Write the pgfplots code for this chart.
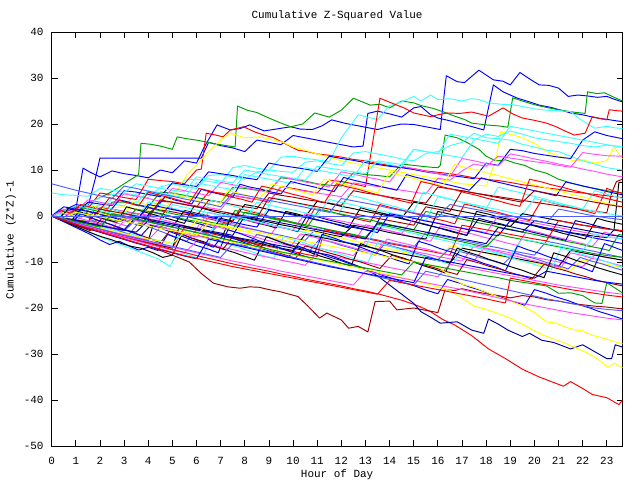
\documentclass[border=0pt]{standalone}
\usepackage{pgfplots}
\pgfplotsset{compat=1.18}
\usepackage{fontspec}
\setmainfont{Liberation Mono}
\definecolor{cR}{HTML}{FF0000}
\definecolor{cG}{HTML}{00A000}
\definecolor{cB}{HTML}{0000FF}
\definecolor{cM}{HTML}{FF50FF}
\definecolor{cC}{HTML}{40FFFF}
\definecolor{cD}{HTML}{A00000}
\definecolor{cY}{HTML}{FFFF00}
\definecolor{cK}{HTML}{000000}
\definecolor{cS}{HTML}{5060FF}
\definecolor{cN}{HTML}{0000A0}
\begin{document}
\begin{tikzpicture}[font=\fontsize{11}{13}\selectfont]
\path[use as bounding box] (-51.7bp,-34bp) rectangle (588.3bp,446bp);
\begin{axis}[at={(0,0)},anchor=south west,scale only axis,
 width=570.8bp,height=414bp,
 xmin=0,xmax=23.65,ymin=-50,ymax=40,
 xtick={0,...,23},ytick={-50,-40,...,40},
 major tick length=6bp,
 tick style={black,line width=0.8bp},
 axis line style={black,line width=1bp},
 /pgf/number format/assume math mode=true,
 xticklabel style={anchor=base,yshift=-18bp,inner sep=0pt},
 yticklabel style={anchor=east,xshift=-8bp,inner sep=0pt},
 every axis plot/.append style={line width=0.95bp,line join=round},
 no markers]
% upper group
\addplot[cB] coordinates {(0,0)(0.5,1)(1,1.5)(1.3,10.4)(1.6,9.5)(2,8.5)(2.5,9.8)(3,9.2)(3.5,8.8)(4,8.3)(4.5,10)(5,9.4)(5.5,12)(6,11.5)(6.3,14.8)(6.85,19.8)(7.4,18.7)(7.8,19)(8.2,19.8)(8.8,18.5)(9.3,18.9)(9.9,19.4)(10.3,18.9)(10.8,18.8)(11.2,19.6)(11.6,20.9)(12.2,20.1)(12.9,19.4)(13.5,18.8)(14,19.5)(14.5,20)(15,19.9)(15.3,19.6)(15.7,19.2)(16.1,18.8)(16.35,30.5)(16.8,29.2)(17.1,29)(17.7,31.7)(18.3,29.6)(18.7,29.3)(19,28.5)(19.4,31.2)(19.8,29.8)(20.2,28.5)(20.6,28.4)(21,27.8)(21.4,26)(21.8,26.3)(22.2,26.1)(22.6,25.8)(23,26)(23.3,25.4)(23.65,24.8)};
\addplot[cB] coordinates {(0,0)(0.5,1.2)(1,2.5)(1.5,2)(1.8,8)(2,12.6)(6.2,12.6)(6.5,16)(7,15.3)(7.5,14.8)(8,14)(8.5,16.5)(9,16)(9.5,15.5)(10,17.5)(10.5,17)(11,16.5)(11.5,16)(12,15.5)(12.5,15)(12.9,15.2)(13.1,22.3)(13.5,22.8)(14,22.2)(14.5,21.5)(15,23.5)(15.3,23.8)(15.7,22)(16,21.3)(16.5,20.7)(17,20)(17.5,19.3)(17.9,18.7)(18.3,28.5)(18.7,27)(19.3,25.6)(19.8,24.8)(20.2,24.1)(20.7,23.6)(21.1,23)(21.5,22.4)(22,22)(22.5,21.4)(23,21)(23.65,20.5)};
\addplot[cG] coordinates {(0,0)(0.5,0.7)(1,1.5)(1.5,2.8)(2,4)(2.5,5.3)(3,7)(3.6,9)(3.7,15.8)(4.1,15.6)(4.5,15.2)(5,14.5)(5.2,17.2)(5.6,16.8)(6,16.5)(6.5,16)(7,15.5)(7.6,15)(7.7,23.9)(8.1,23)(8.5,22.5)(9,21.3)(9.5,20.2)(9.9,19.4)(10.4,20)(10.9,22.4)(11.5,21.5)(12,23)(12.5,25.6)(13.2,24.1)(13.6,24.3)(14,23.5)(14.5,25)(15,24.6)(15.3,24)(15.8,23.4)(16.2,22.7)(16.7,21.7)(17.1,21)(17.4,20.2)(18,19.8)(18.5,19.6)(18.9,19.3)(19.1,25.7)(19.5,25)(20,24.2)(20.5,23.6)(21.1,23)(21.6,22.6)(22.1,22.3)(22.2,27)(22.6,26.6)(22.9,26.8)(23.3,25.8)(23.65,25)};
\addplot[cC] coordinates {(0,0)(0.5,0.5)(1,1)(1.5,2.2)(2,3)(2.5,2.6)(3,2.2)(3.5,4.8)(4,5)(4.5,4.5)(5,4.2)(5.5,7.8)(6,8)(6.5,7.5)(7,7.1)(7.5,10.5)(8,11)(8.5,10.4)(9,10)(9.5,12.8)(10,13)(10.5,12.5)(11,12.2)(11.5,11.8)(12,17)(12.7,22)(13,21.6)(13.5,21)(14,24)(14.5,24.8)(15,26)(15.3,25)(15.7,26.3)(16,25.3)(16.5,25.5)(17,25)(17.4,25.5)(17.7,25.3)(18.1,24.6)(18.6,24.3)(19.1,24.2)(19.5,23.8)(20,23.3)(20.5,23)(21,22.9)(21.5,22.7)(21.8,21.4)(22.2,20)(22.5,19.1)(23,19.5)(23.3,19.2)(23.65,19)};
\addplot[cR] coordinates {(0,0)(0.5,-0.6)(1,-1)(1.5,-1.5)(1.8,2)(2.5,1.5)(3,1)(3.5,0.5)(4,0)(4.5,3.2)(5,3)(5.5,2.5)(6,2)(6.5,5.2)(7,5)(7.5,4.5)(8,4)(8.5,3.6)(9,3)(9.5,6.4)(10,6)(10.5,5.5)(11,5)(11.5,7.8)(12,7.5)(12.5,7)(13,6.4)(13.6,25.6)(14.3,24.1)(14.6,23.5)(15,22.4)(15.7,21.6)(16,22)(16.4,22.4)(16.9,22.3)(17.4,22.6)(18.1,21.7)(18.7,23.5)(19.1,22.2)(19.5,21.3)(20,20.8)(20.5,20.2)(20.9,19.4)(21.3,18.4)(21.65,17.6)(22.1,18)(22.4,21.6)(22.7,21.2)(23,20.9)(23.1,23.1)(23.4,22.9)(23.65,22.8)};
\addplot[cR] coordinates {(0,0)(0.5,0.8)(1,2)(1.5,1.6)(2,5)(2.5,4.6)(3,4)(3.5,3.6)(4,8)(4.5,7.7)(5,7.5)(5.5,7)(6,10)(6.2,10.2)(6.4,18)(6.8,17.6)(7.1,17.2)(7.4,18.7)(7.95,19.4)(8.4,18.3)(8.8,17.6)(9.2,17)(9.5,16.2)(9.9,15.1)(10.2,14.3)(10.6,14)(11,13.5)(11.5,13.2)(12,12.8)(12.5,12.3)(13,12)(13.5,11.4)(14,11)(14.5,10.6)(15,10.3)(15.5,9.8)(16,9.5)(16.5,9.2)(17,8.8)(17.5,8.3)(18,8)(18.5,7.7)(19,7.3)(19.5,6.8)(20,6.5)(20.5,6.1)(21,5.8)(21.5,5.3)(22,5)(22.5,4.7)(23,4.4)(23.65,4)};
\addplot[cG] coordinates {(0,0)(0.5,-0.5)(1,-0.8)(1.5,-1.2)(2,-1)(2.5,3)(3,3)(3.5,2.5)(4,2)(4.5,5.2)(5,5)(5.5,4.5)(6,4)(6.5,3.5)(7,3)(7.5,6.2)(8,6)(8.5,5.6)(9,5.5)(9.5,8.3)(10,8)(10.5,7.6)(11,7)(11.5,6.7)(12,6.5)(12.5,9.4)(13,9)(13.5,8.8)(14,8.5)(14.5,11.3)(15,11)(15.5,10.7)(16,10.5)(16.1,11)(16.3,17.6)(16.8,17)(17.2,16)(17.7,14.5)(18,13)(18.4,12)(18.8,12.2)(19.2,11.5)(19.6,11)(20,10)(20.5,9.3)(21,8)(21.5,7.2)(22,6.5)(22.5,6)(23,5.5)(23.65,5)};
\addplot[cY] coordinates {(0,0)(0.5,0.6)(1,1)(1.5,0.5)(2,0)(2.5,1.8)(3,2)(3.5,1.5)(4,1)(4.5,3.8)(5,4)(5.6,8.9)(6,11)(6.5,14)(7,16.5)(7.4,18)(8,17)(8.6,17.2)(9.2,16.5)(9.6,16)(10,15)(10.5,14.3)(11,13.5)(11.5,12.8)(12,12)(12.5,11.5)(13,11)(13.5,10.5)(14,10)(14.5,9.5)(15,9)(15.5,8.5)(16,8)(16.5,7.5)(17,7)(17.5,6.8)(18,6.5)(18.4,12)(18.6,18.3)(19,17.8)(19.5,17)(20,15.8)(20.5,14)(21,13)(21.65,12)(22,12.2)(22.5,11.5)(23,12)(23.3,15)(23.65,12.4)};
% upper middle
\addplot[cC] coordinates {(0,0)(0.5,0.4)(1,1)(1.5,2.6)(2,4)(2.5,4.7)(3,5)(3.5,4.5)(4,4)(4.5,6.3)(5,7)(5.5,6.4)(6,6)(6.5,8.8)(7,9)(7.5,8.5)(8,8)(8.5,9.6)(9,10)(9.5,9.7)(10,9.5)(10.5,11.7)(11,12)(11.5,11.4)(12,11)(12.5,13.7)(13,14)(13.5,13.5)(14,13)(14.5,12.4)(15,12)(15.5,13.6)(16,14)(16.5,15.3)(17,16)(17.5,18)(18,17)(18.5,16.8)(19,16.5)(19.5,15.6)(20,15)(20.5,14.3)(21,14)(21.5,13)(22,12)(22.5,11.3)(23,10.5)(23.65,10)};
\addplot[cB] coordinates {(0,0)(0.5,-0.3)(1,0.5)(1.5,3)(2,2.6)(2.5,2.3)(3,5.5)(3.5,5.2)(4,4.7)(4.5,4.2)(5,7.2)(5.5,6.8)(6,6.4)(6.5,9.6)(7,9.2)(7.5,8.8)(8,8.3)(8.5,7.9)(9,11.5)(9.5,11)(10,10.6)(10.5,10.2)(11,9.7)(11.5,13)(12,12.5)(12.5,12.1)(13,11.6)(13.5,11.2)(14,10.8)(14.5,10.5)(15,10.1)(15.5,9.6)(16,9.2)(16.5,8.8)(17,8.5)(17.5,8.1)(18,11.5)(18.5,11)(19,14.5)(19.5,14.2)(20,13.6)(20.5,13.2)(21,12.8)(21.5,12.5)(22,16.5)(22.5,18.3)(23,17.5)(23.65,16.8)};
\addplot[cC] coordinates {(0,5)(0.5,4.6)(1,4.5)(1.5,4.3)(2,6)(2.5,5.6)(3,5.2)(3.5,7)(4,6.5)(4.5,6)(5,5.6)(5.5,5.2)(6,8.5)(6.5,8)(7,7.6)(7.5,7.2)(8,10)(8.5,9.5)(9,9)(9.5,8.6)(10,8.2)(10.5,7.8)(11,10.8)(11.5,10.4)(12,10)(12.5,9.6)(13,9.2)(13.5,12)(14,11.6)(14.5,11.2)(15,14.5)(15.5,14)(16,13.6)(16.5,13.1)(17,12.7)(17.5,16.5)(18,17.8)(18.5,17.3)(19,18.5)(19.5,17.8)(20,17)(20.5,16.6)(21,16.2)(21.5,15.8)(22,15.3)(22.5,15)(23,15.4)(23.65,15)};
\addplot[cM] coordinates {(0,0)(0.5,-0.5)(1,-1)(1.5,-1.4)(2,-1.8)(2.5,1.5)(3,1)(3.5,0.6)(4,0.2)(4.5,-0.2)(5,3)(5.5,2.6)(6,2.2)(6.5,1.8)(7,1.4)(7.5,4.5)(8,4.1)(8.5,3.6)(9,3.2)(9.5,6.3)(10,5.8)(10.5,5.4)(11,5)(11.5,4.6)(12,4.2)(12.5,7.2)(13,6.8)(13.5,6.4)(14,6)(14.5,5.6)(15,5.2)(15.5,4.8)(16,8.2)(16.5,7.8)(17,9.8)(17.5,11.3)(18,10.8)(18.5,13)(19,12.6)(19.5,12.2)(20,11.8)(20.5,11.5)(21,11)(21.5,10.6)(22,13.8)(22.5,13.4)(23,13.1)(23.65,13)};
\addplot[cM] coordinates {(0,0)(0.5,1.5)(1,1)(1.5,3.5)(2,3)(2.5,2.4)(3,4.8)(3.5,4.3)(4,3.8)(4.5,3.2)(5,6)(5.5,5.5)(6,5)(6.5,4.4)(7,7.3)(7.5,6.8)(8,6.2)(8.5,5.7)(9,5.1)(9.5,8.5)(10,8)(10.5,7.4)(11,6.9)(11.5,6.3)(12,9.6)(12.5,9.1)(13,8.5)(13.5,8)(14,7.4)(14.5,10.8)(15,10.3)(15.5,9.7)(16,9.2)(16.5,8.6)(17,12.5)(17.5,12)(18,11.4)(18.5,10.9)(19,13.5)(19.5,13)(20,12.4)(20.5,11.9)(21,11.3)(21.5,10.8)(22,10.2)(22.5,9.7)(23,9.1)(23.65,8.5)};
\addplot[cC] coordinates {(0,0)(0.5,0.8)(1,2.2)(1.5,1.7)(2,1.2)(2.5,3.8)(3,3.3)(3.5,2.8)(4,5.5)(4.5,5)(5,4.5)(5.5,4)(6,7.2)(6.5,6.7)(7,6.2)(7.5,5.7)(8,9)(8.5,8.5)(9,8)(9.5,7.5)(10,7)(10.5,10.5)(11,10)(11.5,9.5)(12,9)(12.5,8.5)(13,12.2)(13.5,11.7)(14,11.2)(14.5,10.7)(15,14.5)(15.5,14)(16,13.5)(16.5,17.8)(17,17.3)(17.5,16.8)(18,16.3)(18.5,15.8)(19,19.5)(19.5,19)(20,18.5)(20.5,18)(21,17.5)(21.5,17)(22,16.5)(22.5,16)(23,15.5)(23.65,15)};
\addplot[cD] coordinates {(0,0)(0.5,-0.6)(1,-1.2)(1.5,1)(2,0.6)(2.5,0.1)(3,-0.4)(3.5,-0.9)(4,1.8)(4.5,1.3)(5,0.9)(5.5,0.4)(6,0)(6.5,3.4)(7,3)(7.5,2.5)(8,2)(8.5,1.6)(9,5)(9.5,4.5)(10,4.1)(10.5,3.6)(11,3.2)(11.5,2.8)(12,2.3)(12.5,5.5)(13,5)(13.5,4.6)(14,4.1)(14.5,3.7)(15,3.2)(15.5,2.8)(16,6.3)(16.5,5.9)(17,5.5)(17.5,5)(18,4.6)(18.5,4.2)(19,3.8)(19.5,3.4)(20,3)(20.5,2.6)(21,2.2)(21.5,1.8)(22,1.4)(22.5,1)(23,0.7)(23.2,5)(23.4,7.5)(23.65,8)};
\addplot[cK] coordinates {(0,0)(0.5,-0.6)(1,-1.3)(1.5,-1.9)(2,-2.5)(2.5,0.5)(3,0)(3.5,-0.6)(4,-1.2)(4.5,-1.8)(5,-2.4)(5.5,1.2)(6,0.6)(6.5,0)(7,-0.5)(7.5,-1.1)(8,2.5)(8.5,2)(9,1.4)(9.5,0.9)(10,0.4)(10.5,-0.2)(11,3.2)(11.5,2.7)(12,2.1)(12.5,1.6)(13,1)(13.5,0.5)(14,0)(14.5,-0.5)(15,3)(15.5,2.5)(16,2)(16.5,1.5)(17,1)(17.5,0.5)(18,0)(18.5,-0.6)(19,-1.1)(19.5,-1.6)(20,-2.1)(20.5,-2.6)(21,-3.1)(21.5,-3.6)(22,-4)(22.5,-4.4)(23,-4.7)(23.3,-3)(23.5,7.3)(23.65,7.3)};
% middle
\addplot[cB] coordinates {(0,0)(0.3,-0.5)(0.6,1.2)(1,0.7)(1.3,0.3)(1.7,2.1)(2,1.6)(2.4,1)(2.8,3.5)(3.2,3)(3.5,2.4)(4,1.9)(4.3,1.5)(4.7,4.2)(5,3.6)(5.5,3)(5.8,2.6)(6.2,5.8)(6.6,5.2)(7,4.7)(7.5,4.1)(7.8,6.9)(8.2,6.3)(8.7,5.8)(9.1,5.2)(9.5,4.8)(9.9,7.5)(10.3,7)(10.8,6.4)(11.2,5.9)(11.7,5.3)(12.1,8.4)(12.5,7.8)(13,7.2)(13.4,6.7)(13.9,6.1)(14.3,5.6)(14.7,9)(15.1,8.4)(15.6,7.8)(16,7.3)(16.5,6.7)(16.9,6.2)(17.3,5.6)(17.8,8.3)(18.2,7.7)(18.7,7.1)(19.1,6.6)(19.6,6)(20,5.5)(20.5,4.9)(20.9,4.4)(21.3,7.4)(21.8,6.8)(22.2,6.3)(22.7,5.7)(23.1,5.2)(23.65,4.6)};
\addplot[cR] coordinates {(0,0)(0.4,-0.8)(0.8,0.9)(1.2,0.2)(1.6,-0.5)(2,-1.1)(2.3,1.8)(2.7,1.2)(3.1,0.5)(3.6,-0.2)(4,-0.8)(4.4,-1.4)(4.8,1.9)(5.2,1.3)(5.6,0.6)(6.1,0)(6.5,-0.6)(7,-1.2)(7.4,-1.8)(7.8,1.6)(8.2,1)(8.7,0.4)(9.1,-0.2)(9.6,-0.8)(10,-1.4)(10.5,-2)(10.9,1.7)(11.4,1.1)(11.8,0.5)(12.3,-0.1)(12.7,-0.7)(13.2,-1.3)(13.6,2.5)(14,1.9)(14.5,1.3)(14.9,0.7)(15.4,0.1)(15.8,-0.5)(16.3,-1.1)(16.7,-1.7)(17.1,2.6)(17.6,2)(18,1.4)(18.5,0.8)(18.9,0.2)(19.4,-0.4)(19.8,-1)(20.3,3.5)(20.7,2.9)(21.2,2.3)(21.6,1.7)(22.1,1.1)(22.5,0.5)(23,6)(23.3,5.4)(23.65,4.9)};
\addplot[cM] coordinates {(0,0)(0.4,-0.7)(0.8,-1.4)(1.2,0.8)(1.6,0.2)(2,-0.5)(2.4,-1.1)(2.8,-1.7)(3.2,-2.3)(3.6,0.6)(4,0)(4.4,-0.6)(4.9,-1.2)(5.3,-1.8)(5.7,-2.4)(6.1,-3)(6.5,-0.3)(6.9,-0.9)(7.4,-1.5)(7.8,-2.1)(8.2,-2.7)(8.7,-3.3)(9.1,-3.9)(9.5,-0.8)(10,-1.4)(10.4,-2)(10.8,-2.6)(11.3,-3.2)(11.7,-3.8)(12.2,-4.4)(12.6,-5)(13,-1.9)(13.5,-2.5)(13.9,-3.1)(14.3,-3.7)(14.8,-4.3)(15.2,-4.9)(15.7,-5.5)(16.1,-2.2)(16.6,-2.8)(17,-3.4)(17.5,-4)(17.9,-4.6)(18.4,-5.2)(18.8,-5.8)(19.3,-6.4)(19.7,-3)(20.2,-3.6)(20.6,-4.2)(21.1,-4.8)(21.5,-5.4)(22,-6)(22.4,-6.6)(22.9,-3.5)(23.3,-4.1)(23.65,-4.6)};
\addplot[cC] coordinates {(0,0)(0.3,1.5)(0.7,1)(1.1,0.4)(1.5,-0.2)(1.9,2.4)(2.3,1.8)(2.7,1.2)(3.2,0.6)(3.6,0)(4,3.1)(4.5,2.5)(4.9,1.9)(5.3,1.3)(5.8,0.7)(6.2,0.1)(6.6,3.4)(7.1,2.8)(7.5,2.2)(7.9,1.6)(8.4,1)(8.8,0.4)(9.2,4)(9.7,3.4)(10.1,2.8)(10.6,2.2)(11,1.6)(11.4,1)(11.9,0.4)(12.3,4.6)(12.8,4)(13.2,3.4)(13.6,2.8)(14.1,2.2)(14.5,1.6)(15,1)(15.4,5.2)(15.8,4.6)(16.3,4)(16.7,3.4)(17.2,2.8)(17.6,2.2)(18,1.6)(18.5,6.3)(18.9,5.7)(19.4,5.1)(19.8,4.5)(20.3,3.9)(20.7,3.3)(21.1,2.7)(21.6,2.1)(22,1.5)(22.5,5.5)(22.9,4.9)(23.3,4.3)(23.65,3.8)};
\addplot[cY] coordinates {(0,0)(0.4,0.9)(0.8,0.3)(1.2,-0.3)(1.7,2.2)(2.1,1.6)(2.5,1)(3,0.4)(3.4,3.3)(3.8,2.7)(4.3,2.1)(4.7,1.5)(5.1,4.6)(5.6,4)(6,3.4)(6.4,2.8)(6.9,2.2)(7.3,5.5)(7.8,4.9)(8.2,4.3)(8.6,3.7)(9.1,7)(9.5,6.4)(10,5.8)(10.4,5.2)(10.8,4.6)(11.3,8)(11.7,7.4)(12.2,6.8)(12.6,6.2)(13.1,5.6)(13.5,5)(14,9.5)(14.4,8.9)(14.9,8.3)(15.3,7.7)(15.8,7.1)(16.2,6.5)(16.7,11.2)(17.1,10.6)(17.6,10)(18,9.4)(18.5,8.8)(18.9,8.2)(19.4,7.6)(19.8,7)(20.3,6.4)(20.7,5.8)(21.2,5.2)(21.6,4.6)(22.1,4)(22.5,3.4)(23,2.8)(23.3,2.4)(23.65,2)};
\addplot[cK] coordinates {(0,0)(0.3,-0.6)(0.7,1.6)(1.1,1)(1.5,0.4)(1.9,-0.2)(2.3,-0.8)(2.7,-1.4)(3.1,2)(3.5,1.4)(3.9,0.8)(4.3,0.2)(4.7,-0.4)(5.1,-1)(5.5,-1.6)(5.9,2.2)(6.3,1.6)(6.7,1)(7.2,0.4)(7.6,-0.2)(8,-0.8)(8.4,-1.4)(8.9,-2)(9.3,-2.6)(9.7,1)(10.2,0.4)(10.6,-0.2)(11,-0.8)(11.5,-1.4)(11.9,-2)(12.3,-2.6)(12.8,1.8)(13.2,1.2)(13.7,0.6)(14.1,0)(14.5,-0.6)(15,-1.2)(15.4,-1.8)(15.9,-2.4)(16.3,-3)(16.7,-3.6)(17.2,-4.2)(17.6,1)(18.1,0.4)(18.5,-0.2)(19,-0.8)(19.4,-1.4)(19.9,-2)(20.3,-2.6)(20.8,-3.2)(21.2,-3.8)(21.7,-4.4)(22.1,-5)(22.6,-0.5)(23,-1.1)(23.65,-1.8)};
\addplot[cG] coordinates {(0,0)(0.4,-0.5)(0.8,-1)(1.3,1.8)(1.7,1.3)(2.1,0.8)(2.5,0.3)(2.9,-0.2)(3.3,-0.7)(3.8,-1.2)(4.2,1.5)(4.6,1)(5,0.5)(5.5,0)(5.9,-0.5)(6.3,-1)(6.7,-1.5)(7.2,-2)(7.6,1.2)(8,0.7)(8.5,0.2)(8.9,-0.3)(9.3,-0.8)(9.8,-1.3)(10.2,-1.8)(10.6,-2.3)(11.1,1.5)(11.5,1)(11.9,0.5)(12.4,0)(12.8,-0.5)(13.3,-1)(13.7,-1.5)(14.1,-2)(14.6,-2.5)(15,-3)(15.5,1)(15.9,0.5)(16.4,0)(16.8,-0.5)(17.3,-1)(17.7,-1.5)(18.2,-2)(18.6,-2.5)(19.1,-3)(19.5,-3.5)(20,-4)(20.4,-4.5)(20.9,-5)(21.3,-5.5)(21.8,-6)(22.2,-6.5)(22.7,-7)(23.1,-7.5)(23.5,-4)(23.65,-4.2)};
\addplot[cN] coordinates {(0,0)(0.4,-0.6)(0.8,-1.2)(1.2,1.5)(1.6,0.9)(2,0.3)(2.5,-0.3)(2.9,-0.9)(3.3,-1.5)(3.7,-2.1)(4.1,1)(4.6,0.4)(5,-0.2)(5.4,-0.8)(5.9,-1.4)(6.3,-2)(6.7,-2.6)(7.2,0.8)(7.6,0.2)(8,-0.4)(8.5,-1)(8.9,-1.6)(9.3,-2.2)(9.8,-2.8)(10.2,-3.4)(10.6,0.3)(11.1,-0.3)(11.5,-0.9)(12,-1.5)(12.4,-2.1)(12.8,-2.7)(13.3,-3.3)(13.7,0.6)(14.2,0)(14.6,-0.6)(15,-1.2)(15.5,-1.8)(15.9,-2.4)(16.4,-3)(16.8,-3.6)(17.2,-4.2)(17.7,-0.5)(18.1,-1.1)(18.6,-1.7)(19,-2.3)(19.5,-2.9)(19.9,-3.5)(20.4,-4.1)(20.8,-4.7)(21.3,-5.3)(21.7,-1)(22.2,-1.6)(22.6,-2.2)(23.1,-2.8)(23.65,-3.4)};
\addplot[cR] coordinates {(0,0)(0.4,1.2)(0.8,0.6)(1.2,2.5)(1.6,1.9)(2,1.3)(2.4,4)(2.8,3.4)(3.2,2.8)(3.6,2.2)(4,5.2)(4.4,4.6)(4.9,4)(5.3,3.4)(5.7,2.8)(6.1,6)(6.6,5.4)(7,4.8)(7.4,4.2)(7.9,3.6)(8.3,3)(8.7,6.5)(9.2,5.9)(9.6,5.3)(10,4.7)(10.5,4.1)(10.9,3.5)(11.3,2.9)(11.8,7)(12.2,6.4)(12.7,5.8)(13.1,5.2)(13.5,4.6)(14,4)(14.4,3.4)(14.9,2.8)(15.3,7.5)(15.8,6.9)(16.2,6.3)(16.7,5.7)(17.1,5.1)(17.6,4.5)(18,3.9)(18.5,3.3)(18.9,2.7)(19.4,2.1)(19.8,8)(20.3,7.4)(20.7,6.8)(21.2,6.2)(21.6,5.6)(22.1,5)(22.5,4.4)(23,3.8)(23.65,3)};
\addplot[cM] coordinates {(0,0)(0.5,-0.6)(1,-1.1)(1.5,-1.7)(2,-2.2)(2.5,-2.8)(3,0.5)(3.5,0)(4,-0.5)(4.5,-1.1)(5,-1.6)(5.5,-2.2)(6,-2.7)(6.5,0.8)(7,0.2)(7.5,-0.3)(8,-0.9)(8.5,-1.4)(9,-2)(9.5,-2.5)(10,-3)(10.5,0.5)(11,0)(11.5,-0.6)(12,-1.1)(12.5,-1.6)(13,-2.2)(13.5,-2.7)(14,-3.2)(14.5,-3.8)(15,-0.5)(15.5,-1)(16,-1.5)(16.5,-2.1)(17,-2.6)(17.5,-3.1)(18,-3.6)(18.5,0)(19,-0.5)(19.5,-1)(20,-1.5)(20.5,-2)(21,-2.5)(21.5,-3)(22,-3.5)(22.5,-4)(23,-4.5)(23.65,-5)};
\addplot[cC] coordinates {(0,0)(0.5,-0.7)(1,-1.3)(1.5,1.8)(2,1.2)(2.5,0.6)(3,0)(3.5,-0.6)(4,-1.2)(4.5,-1.8)(5,2.5)(5.5,1.9)(6,1.3)(6.5,0.7)(7,0.1)(7.5,-0.5)(8,-1)(8.5,3)(9,2.4)(9.5,1.8)(10,1.3)(10.5,0.7)(11,0.1)(11.5,3.6)(12,3)(12.5,2.4)(13,1.8)(13.5,1.3)(14,0.7)(14.5,0.2)(15,-0.4)(15.5,-1)(16,4.2)(16.5,3.6)(17,3)(17.5,2.5)(18,1.9)(18.5,1.4)(19,0.8)(19.5,0.3)(20,3.8)(20.5,3.2)(21,2.6)(21.5,2.1)(22,1.5)(22.5,1)(23,0.5)(23.65,0)};
\addplot[cS] coordinates {(0,0)(0.5,-0.5)(1,-1)(1.5,-1.6)(2,-2.1)(2.5,-2.7)(3,-3.2)(3.5,-0.8)(4,-1.3)(4.5,-1.9)(5,-2.4)(5.5,-3)(6,-3.5)(6.5,-4.1)(7,-1.5)(7.5,-2)(8,-2.6)(8.5,-3.1)(9,-3.7)(9.5,-4.2)(10,-4.8)(10.5,-5.3)(11,-2.5)(11.5,-3)(12,-3.6)(12.5,-4.1)(13,-4.7)(13.5,-5.2)(14,-5.8)(14.5,-6.3)(15,-6.8)(15.5,-3.6)(16,-4.2)(16.5,-4.7)(17,-5.3)(17.5,-5.8)(18,-6.4)(18.5,-6.9)(19,-7.5)(19.5,-8)(20,-8.5)(20.5,-5.5)(21,-6)(21.5,-6.6)(22,-7.2)(22.5,-7.7)(23,-8.3)(23.65,-9)};
\addplot[cK] coordinates {(0,0)(0.5,-0.8)(1,-1.5)(1.5,-2.3)(2,-3)(2.5,-3.6)(3,-4.2)(3.5,-4.8)(4,-5.3)(4.2,-2)(4.5,-2.3)(5,-3)(5.5,-3.6)(6,-4.1)(6.5,-4.7)(7,-5.2)(7.5,0.5)(8,-0.2)(8.5,-0.8)(9,-1.3)(9.5,-1.9)(10,-2.4)(10.5,-3)(11,-3.4)(11.5,-4)(12,-4.5)(12.5,-2)(13,-2.5)(13.5,-3)(14,-3.6)(14.5,-4.1)(15,-4.6)(15.5,-5)(16,1)(16.5,0.4)(17,-0.2)(17.5,-0.7)(18,-1.3)(18.5,-1.8)(19,-2.3)(19.5,0.5)(20,0)(20.5,-0.5)(21,-1)(21.5,-1.5)(22,-2)(22.5,-2.4)(23,-2.8)(23.65,-3.2)};
\addplot[cG] coordinates {(0,0)(0.5,-0.5)(1,0.8)(1.5,0.3)(2,-0.2)(2.5,-0.8)(3,-1.3)(3.5,1.5)(4,1)(4.5,0.4)(5,-0.1)(5.5,-0.7)(6,-1.2)(6.5,-1.8)(7,-2.3)(7.5,-2.8)(8,0.8)(8.5,0.3)(9,-0.3)(9.5,-0.8)(10,-1.4)(10.5,-1.9)(11,-2.4)(11.5,-3)(12,-3.5)(12.5,-4)(13,-4.6)(13.5,-1.8)(14,-2.3)(14.5,-2.9)(15,-3.4)(15.5,-4)(16,-4.5)(16.5,-5.1)(17,-5.6)(17.5,-6.2)(18,-6.7)(18.5,-4)(19,-4.6)(19.5,-5.1)(20,-5.6)(20.5,-6.2)(21,-6.7)(21.5,-7.2)(22,-7.7)(22.5,-8.2)(23,-8.6)(23.65,-9)};
\addplot[cD] coordinates {(0,0)(0.5,-0.4)(1,-0.9)(1.5,-1.3)(2,1.5)(2.5,1)(3,0.5)(3.5,0)(4,-0.5)(4.5,3.5)(5,3)(5.5,2.5)(6,2)(6.5,1.5)(7,1)(7.5,0.5)(8,0)(8.5,-0.5)(9,4)(9.5,3.5)(10,3)(10.5,2.5)(11,2)(11.5,1.5)(12,1)(12.5,0.5)(13,0)(13.5,-0.5)(14,-1)(14.5,-1.5)(15,-2)(15.5,2)(16,1.5)(16.5,1)(17,5.5)(17.5,5)(18,4.5)(18.5,4)(19,3.5)(19.5,3)(20,5.5)(20.5,5)(21,4.5)(21.5,4)(22,3.5)(22.5,3)(23,2.5)(23.65,2)};
\addplot[cB] coordinates {(0,0)(0.5,2)(1,1.5)(1.5,1)(2,0.4)(2.5,-0.1)(3,-0.7)(3.5,-1.2)(4,2.5)(4.5,2)(5,1.4)(5.5,0.9)(6,0.3)(6.5,-0.2)(7,-0.8)(7.5,-1.3)(8,-1.9)(8.5,-2.4)(9,1.3)(9.5,0.8)(10,0.2)(10.5,-0.3)(11,-0.9)(11.5,-1.4)(12,-2)(12.5,-2.5)(13,-3)(13.5,-3.6)(14,0.5)(14.5,0)(15,-0.5)(15.5,-1.1)(16,-1.6)(16.5,-2.2)(17,-2.7)(17.5,-3.2)(18,-3.8)(18.5,-4.3)(19,-1)(19.5,-1.5)(20,-2)(20.5,-2.6)(21,-3.1)(21.5,-3.7)(22,-4.2)(22.5,-4.8)(23,-5.3)(23.65,-6)};
\addplot[cM] coordinates {(0,0)(0.5,-0.7)(1,-1.4)(1.5,-2.1)(2,-2.8)(2.5,-3.4)(3,-4)(3.5,-4.6)(4,-5.2)(4.5,-2.5)(5,-3.1)(5.5,-3.7)(6,-4.3)(6.5,-4.9)(7,-5.5)(7.5,-6.1)(8,-6.7)(8.5,-4)(9,-4.6)(9.5,-5.2)(10,-5.8)(10.5,-6.3)(11,-6.9)(11.5,-7.5)(12,-8)(12.5,-8.6)(13,-5.5)(13.5,-6)(14,-6.6)(14.5,-7.1)(15,-7.7)(15.5,-8.2)(16,-8.8)(16.5,-9.3)(17,-9.8)(17.5,-6.5)(18,-7)(18.5,-7.5)(19,-8)(19.5,-8.5)(20,-9)(20.5,-9.5)(21,-10)(21.5,-10.5)(22,-11)(22.5,-8.5)(23,-9)(23.65,-9.6)};
\addplot[cY] coordinates {(0,0)(0.5,-0.6)(1,-1.2)(1.5,-1.8)(2,0.6)(2.5,0)(3,-0.6)(3.5,-1.2)(4,-1.8)(4.5,-2.4)(5,-3)(5.5,-3.6)(6,-1)(6.5,-1.6)(7,-2.2)(7.5,-2.8)(8,-3.4)(8.5,-4)(9,-4.6)(9.5,-5.2)(10,-5.8)(10.5,-3)(11,-3.6)(11.5,-4.2)(12,-4.8)(12.5,-5.4)(13,-6)(13.5,-6.6)(14,-7.2)(14.5,-7.8)(15,-8.3)(15.5,-8.9)(16,-9.4)(16.5,-6.5)(17,-7)(17.5,-7.6)(18,-8.1)(18.5,-8.7)(19,-9.2)(19.5,-9.8)(20,-10.3)(20.5,-10.8)(21,-11.3)(21.5,-11.8)(22,-9.5)(22.5,-10)(23,-10.5)(23.65,-11.2)};
\addplot[cR] coordinates {(0,0)(0.5,-0.8)(1,-1.6)(1.5,-2.4)(2,-3.1)(2.5,-3.8)(3,-4.5)(3.5,-5.1)(4,-5.7)(4.5,-6.3)(5,-6.9)(5.5,-2.5)(6,-3.1)(6.5,-3.7)(7,-4.3)(7.5,-4.9)(8,-5.5)(8.5,-6.1)(9,-6.6)(9.5,-7.2)(10,-7.7)(10.5,-8.3)(11,-8.8)(11.3,-3)(11.5,-3.2)(12,-3.8)(12.5,-4.3)(13,-4.9)(13.5,-5.4)(14,-6)(14.5,-6.5)(15,-7)(15.5,-7.5)(16,-8)(16.5,-8.5)(17,-2)(17.5,-2.5)(18,-3)(18.5,-3.5)(19,-4)(19.5,-4.5)(20,-5)(20.5,-5.4)(21,-1)(21.5,-1.5)(22,-2)(22.5,-2.4)(23,-2.8)(23.65,-3.2)};
\addplot[cN] coordinates {(0,0)(0.5,-0.5)(1,-1)(1.5,-1.5)(2,-2)(2.5,-2.5)(3,-3)(3.5,-0.2)(4,-0.7)(4.5,-1.2)(5,-1.7)(5.5,-2.2)(6,-2.7)(6.5,-3.2)(7,-3.7)(7.5,-4.2)(8,0)(8.5,-0.5)(9,-1)(9.5,-1.5)(10,-2)(10.5,-2.5)(11,-3)(11.5,-3.5)(12,-4)(12.5,-4.5)(13,-5)(13.5,-1.5)(14,-2)(14.5,-2.5)(15,-3)(15.5,-3.5)(16,-4)(16.5,-4.5)(17,-5)(17.5,-5.5)(18,-6)(18.5,-2.5)(19,-3)(19.5,-3.5)(20,-1)(20.5,-1.5)(21,-2)(21.5,-2.5)(22,-3)(22.5,-3.5)(23,-4)(23.65,-4.5)};
\addplot[cC] coordinates {(0,0)(0.5,-0.6)(1,-1.2)(1.5,-1.8)(2,-2.4)(2.5,-3)(3,-3.6)(3.5,-4.2)(4,-4.8)(4.5,-5.4)(5,-6)(5.5,-3)(6,-3.6)(6.5,-4.2)(7,0.5)(7.5,0)(8,-0.6)(8.5,-1.2)(9,-1.8)(9.5,-2.4)(10,-3)(10.5,-3.6)(11,-4.2)(11.5,-4.8)(12,-5.4)(12.5,-6)(13,-6.6)(13.5,-2)(14,-2.6)(14.5,-3.2)(15,-3.8)(15.5,-4.4)(16,-5)(16.5,-5.6)(17,-6.2)(17.5,-6.8)(18,-7.4)(18.5,-8)(19,-8.6)(19.5,-5)(20,-5.5)(20.5,-6)(21,-6.5)(21.5,-7)(22,-7.5)(22.5,-4)(23,-4.5)(23.65,-5)};
\addplot[cK] coordinates {(0,0)(0.5,-0.8)(1,-1.6)(1.5,-2.3)(2,-3)(2.5,-3.7)(3,-4.4)(3.5,-5.1)(4,-5.8)(4.5,-6.4)(5,-7)(5.3,-2)(5.5,-2.2)(6,-2.8)(6.5,-3.4)(7,-4)(7.5,-4.6)(8,-5.2)(8.5,-5.8)(9,-6.4)(9.5,-7)(10,-7.5)(10.5,-4)(11,-4.5)(11.5,-5)(12,-5.6)(12.5,-6.1)(13,-6.6)(13.5,-7.2)(14,-7.7)(14.5,-8.2)(15,-8.7)(15.5,-9.2)(16,-9.7)(16.5,-10.2)(17,-7)(17.5,-7.5)(18,-8)(18.5,-8.5)(19,-9)(19.5,-9.5)(20,-10)(20.5,-10.5)(21,-11)(21.5,-7.5)(22,-8)(22.5,-8.5)(23,-9)(23.65,-9.6)};
\addplot[cS] coordinates {(0,0)(0.4,-0.9)(0.8,-1.7)(1.2,-2.5)(1.6,-0.8)(2,-1.6)(2.4,-2.4)(2.8,-3.2)(3.2,-4)(3.6,-1.5)(4,-2.3)(4.4,-3.1)(4.8,-3.9)(5.2,-4.7)(5.6,-5.5)(6,-3)(6.4,-3.8)(6.8,-4.5)(7.3,-5.2)(7.7,-5.9)(8.1,-6.6)(8.5,-4)(9,-4.7)(9.4,-5.4)(9.8,-6.1)(10.3,-6.8)(10.7,-7.5)(11.1,-5)(11.6,-5.7)(12,-6.4)(12.5,-7.1)(12.9,-7.8)(13.4,-8.5)(13.8,-6)(14.2,-6.7)(14.7,-7.4)(15.1,-8.1)(15.6,-8.8)(16,-9.5)(16.5,-7)(16.9,-7.7)(17.4,-8.4)(17.8,-9.1)(18.3,-9.8)(18.7,-10.5)(19.2,-8)(19.6,-8.7)(20.1,-9.4)(20.5,-10.1)(21,-10.8)(21.4,-11.5)(21.9,-9)(22.3,-9.7)(22.8,-10.4)(23.2,-11.1)(23.65,-11.8)};
\addplot[cM] coordinates {(0,0)(0.3,0.8)(0.7,0.2)(1.1,-0.4)(1.5,-1)(1.9,-1.6)(2.3,-2.2)(2.7,-2.8)(3.1,-0.4)(3.5,-1)(3.9,-1.6)(4.3,-2.2)(4.8,-2.8)(5.2,-3.4)(5.6,-4)(6,-4.6)(6.4,-1.8)(6.9,-2.4)(7.3,-3)(7.7,-3.6)(8.2,-4.2)(8.6,-4.8)(9,-5.4)(9.5,-6)(9.9,-6.6)(10.3,-3.9)(10.8,-4.5)(11.2,-5.1)(11.7,-5.7)(12.1,-6.3)(12.5,-6.9)(13,-7.5)(13.4,-8.1)(13.9,-5)(14.3,-5.6)(14.8,-6.2)(15.2,-6.8)(15.7,-7.4)(16.1,-8)(16.6,-8.6)(17,-9.2)(17.5,-9.8)(17.9,-7)(18.4,-7.6)(18.8,-8.2)(19.3,-8.8)(19.7,-9.4)(20.2,-10)(20.6,-10.6)(21.1,-11.2)(21.5,-8)(22,-8.6)(22.4,-9.2)(22.9,-9.8)(23.3,-10.4)(23.65,-10.9)};
\addplot[cC] coordinates {(0,0)(0.4,-0.9)(0.8,-1.8)(1.2,-2.7)(1.6,-3.6)(2,-4.5)(2.4,-5.3)(2.8,-6.1)(3.2,-6.9)(3.6,-7.7)(4,-8.5)(4.4,-9.3)(4.9,-11)(5.1,-9)(5.4,-8)(5.8,-8.7)(6.2,-9.4)(6.6,-5)(7,-5.7)(7.5,-6.4)(7.9,-7.1)(8.3,-7.8)(8.7,-8.5)(9.2,-9.2)(9.6,-4.5)(10,-5.2)(10.5,-5.9)(10.9,-6.6)(11.3,-7.3)(11.8,-8)(12.2,-8.7)(12.6,-9.4)(13.1,-10.1)(13.5,-5.8)(14,-6.5)(14.4,-7.2)(14.8,-7.9)(15.3,-8.6)(15.7,-9.3)(16.2,-10)(16.6,-10.7)(17.1,-6)(17.5,-6.7)(18,-7.4)(18.4,-8.1)(18.9,-8.8)(19.3,-9.5)(19.8,-10.2)(20.2,-10.9)(20.7,-11.6)(21.1,-7)(21.6,-7.7)(22,-8.4)(22.5,-9.1)(22.9,-9.8)(23.3,-10.5)(23.65,-11.2)};
\addplot[cB] coordinates {(0,0)(0.4,-1)(0.8,-2)(1.2,-3)(1.6,-4)(2,-5.2)(2.4,-6.2)(2.8,-5.5)(3.2,-6.5)(3.6,-7.4)(4,-6.8)(4.4,-7.5)(4.8,-4)(5.2,-4.8)(5.6,-5.6)(6,-6.4)(6.5,-7.2)(6.9,-8)(7.3,-3)(7.8,-3.8)(8.2,-4.6)(8.6,-5.4)(9.1,-6.2)(9.5,-7)(9.9,-7.8)(10.4,-8.6)(10.8,-9.4)(11.2,-4)(11.7,-4.8)(12.1,-5.6)(12.6,-6.4)(13,-7.2)(13.4,-8)(13.9,-8.8)(14.3,-9.6)(14.8,-10.4)(15.2,-5.5)(15.7,-6.3)(16.1,-7.1)(16.6,-7.9)(17,-8.7)(17.5,-9.5)(17.9,-10.3)(18.4,-11.1)(18.8,-11.9)(19.3,-6.5)(19.7,-7.3)(20.2,-8.1)(20.6,-8.9)(21.1,-9.7)(21.5,-10.5)(22,-11.3)(22.4,-12.1)(22.9,-6)(23.3,-6.8)(23.65,-7.5)};
\addplot[cK] coordinates {(0,0)(0.4,-0.9)(0.8,-1.8)(1.2,-2.7)(1.6,-3.6)(2,-4.4)(2.5,-5.2)(2.9,-6)(3.3,-6.6)(3.7,-7)(4.2,-8)(4.6,-9)(5,-8.5)(5.4,-4)(5.8,-4.8)(6.3,-5.6)(6.7,-6.4)(7.1,-7.2)(7.6,-8)(8,-8.8)(8.4,-9.6)(8.9,-4.5)(9.3,-5.3)(9.7,-6.1)(10.2,-6.9)(10.6,-7.7)(11,-8.5)(11.5,-9.3)(11.9,-10.1)(12.4,-10.9)(12.8,-6)(13.2,-6.8)(13.7,-7.6)(14.1,-8.4)(14.6,-9.2)(15,-10)(15.4,-10.8)(15.9,-11.6)(16.3,-12.4)(16.8,-7)(17.2,-7.8)(17.7,-8.6)(18.1,-9.4)(18.6,-10.2)(19,-11)(19.5,-11.8)(19.9,-12.6)(20.4,-13.4)(20.8,-8)(21.3,-8.8)(21.7,-9.6)(22.2,-10.4)(22.6,-11.2)(23.1,-12)(23.65,-12.8)};
\addplot[cM] coordinates {(0,0)(0.5,-0.9)(1,-1.7)(1.5,-2.5)(2,-3.3)(2.5,-4)(3,-4.7)(3.5,-5.4)(4,-6.1)(4.5,-6.8)(5,-7.4)(5.5,-8)(6,-5.5)(6.5,-6.1)(7,-6.7)(7.5,-7.3)(8,-7.9)(8.5,-8.5)(9,-9)(9.5,-9.6)(10,-10.1)(10.5,-10.7)(11,-8)(11.5,-8.5)(12,-9.1)(12.5,-9.6)(13,-10.1)(13.5,-10.6)(14,-11.2)(14.5,-11.7)(15,-12.2)(15.5,-12.7)(16,-13.2)(16.5,-10.5)(17,-11)(17.5,-11.5)(18,-12)(18.5,-12.5)(19,-13)(19.5,-13.5)(20,-14)(20.5,-14.5)(21,-15)(21.5,-15.4)(22,-15.8)(22.5,-16.2)(23,-16.6)(23.65,-17)};
\addplot[cS] coordinates {(0,7)(0.5,6.3)(1,5.6)(1.5,5)(2,4.4)(2.5,3.8)(3,6.5)(3.5,6)(4,5.4)(4.5,4.8)(5,4.3)(5.5,3.7)(6,3.2)(6.5,2.6)(7,2)(7.5,5)(8,4.5)(8.5,4)(9,3.4)(9.5,2.9)(10,2.4)(10.5,1.9)(11,1.3)(11.5,0.8)(12,3.8)(12.5,3.3)(13,2.8)(13.5,2.3)(14,1.7)(14.5,1.2)(15,0.7)(15.5,0.2)(16,-0.3)(16.5,2.5)(17,2)(17.5,1.5)(18,1)(18.5,0.5)(19,0)(19.5,-0.5)(20,-1)(20.5,-1.5)(21,1.5)(21.5,1)(22,0.5)(22.5,0)(23,-0.4)(23.65,-0.8)};
% lower group
\addplot[cD] coordinates {(0,0)(0.4,-0.8)(0.8,-1.6)(1.2,-2.4)(1.6,-3.2)(2,-1)(2.4,-1.8)(2.8,-2.6)(3.3,-3.4)(3.7,-4.2)(4.1,-5)(4.5,-5.8)(4.9,-3.2)(5.4,-4)(5.8,-4.8)(6.2,-5.6)(6.6,-6.4)(7.1,-7.2)(7.5,-4.5)(7.9,-5.3)(8.4,-6.1)(8.8,-6.9)(9.2,-7.7)(9.7,-8.5)(10.1,-9.2)(10.5,-6.5)(11,-7.2)(11.4,-7.9)(11.9,-8.6)(12.3,-9.3)(12.8,-10)(13.2,-10.7)(13.6,-11.4)(14.1,-8.5)(14.5,-9.2)(15,-9.9)(15.4,-10.6)(15.9,-11.3)(16.3,-12)(16.8,-12.7)(17.2,-9.5)(17.7,-10.2)(18.1,-10.9)(18.6,-11.6)(19,-12.3)(19.5,-13)(19.9,-13.7)(20.4,-10.5)(20.8,-11.2)(21.3,-11.9)(21.7,-12.6)(22.2,-13.3)(22.6,-14)(23.1,-14.6)(23.65,-15.2)};
\addplot[cB] coordinates {(0,0)(0.4,-0.8)(0.8,-1.6)(1.2,0.5)(1.6,-0.3)(2,-1.1)(2.5,-1.9)(2.9,-2.7)(3.3,-3.5)(3.7,-4.3)(4.1,-2)(4.6,-2.8)(5,-3.6)(5.4,-4.4)(5.8,-5.2)(6.3,-6)(6.7,-6.8)(7.1,-4.2)(7.6,-5)(8,-5.8)(8.4,-6.6)(8.9,-7.4)(9.3,-8.2)(9.8,-9)(10.2,-6.5)(10.6,-7.3)(11.1,-8.1)(11.5,-8.9)(12,-9.7)(12.4,-10.5)(12.8,-11.3)(13.3,-12.1)(13.7,-12.9)(14.2,-13.7)(14.6,-14.5)(15.1,-15.3)(15.5,-16.1)(16,-16.9)(16.4,-13.8)(16.9,-14.6)(17.3,-15.4)(17.8,-16.2)(18.2,-17)(18.7,-17.8)(19.1,-18.6)(19.6,-19.4)(20,-16)(20.5,-16.8)(20.9,-17.6)(21.4,-18.4)(21.8,-19.2)(22.3,-20)(22.7,-20.8)(23.2,-21.6)(23.65,-22.4)};
\addplot[cR] coordinates {(0,0)(0.5,-0.8)(1,-1.5)(1.5,-2.3)(2,-3)(2.5,-3.8)(3,-4.5)(3.5,-5.2)(4,-5.9)(4.5,-6.6)(5,-7.3)(5.5,-7.9)(6,-8.6)(6.5,-9.2)(7,-9.8)(7.5,-10.4)(8,-11)(8.5,-11.5)(9,-12)(9.5,-12.6)(10,-13.1)(10.5,-13.7)(11,-14.2)(11.5,-14.7)(12,-15.2)(12.5,-15.8)(13,-16.3)(13.5,-16.9)(14,-17.6)(14.5,-18.3)(15,-19.2)(15.3,-19.8)(15.7,-20.8)(16.2,-22.5)(16.7,-23.7)(17.4,-26)(18.1,-28.9)(18.8,-31)(19.5,-33.3)(20.2,-35)(20.9,-36.4)(21.2,-37)(21.5,-36)(22,-37.5)(22.4,-38.8)(23,-39.5)(23.5,-41)(23.65,-40)};
\addplot[cD] coordinates {(0,0)(0.5,-1)(1,-2)(1.5,-2.8)(2,-3.5)(2.5,-4.3)(3,-5)(3.5,-5.8)(4,-6.5)(4.5,-7.5)(5,-8.5)(5.7,-10)(6.2,-12.5)(6.7,-14.6)(7.3,-15.4)(7.8,-15.7)(8.2,-15.4)(8.6,-15.5)(9,-16)(9.5,-16.5)(10.2,-17.5)(10.6,-19.5)(11.1,-22.2)(11.4,-21.1)(12,-22.6)(12.3,-24.4)(12.7,-24)(13.1,-25.2)(13.4,-18.6)(14,-18.5)(14.3,-20.4)(15,-20)(15.5,-20.5)(16,-21)(16.3,-16)(16.7,-16.2)(17,-15.8)(17.5,-16.4)(18,-16.9)(18.5,-17.3)(19,-17.8)(19.5,-17.3)(20,-17.6)(20.5,-18.2)(21,-18.5)(21.5,-19)(22,-19.3)(22.5,-19.6)(23,-19.8)(23.65,-20.2)};
\addplot[cN] coordinates {(0,0)(0.5,-0.6)(1,-1.1)(1.5,-1.6)(2,-2.1)(2.5,-2.6)(3,-3.1)(3.5,-3.5)(4,-1)(4.5,-1.5)(5,-2)(5.5,-2.5)(6,-3)(6.5,-3.5)(7,-4)(7.5,-4.5)(8,-5)(8.5,-5.5)(9,-6)(9.5,-6.5)(10,-7)(10.5,-7.5)(11,-8)(11.5,-8.5)(12,-9.5)(12.5,-10.5)(13,-11.5)(13.5,-13)(14,-15)(14.5,-17)(15,-19)(15.3,-20.8)(15.7,-22)(16.1,-23.3)(16.8,-23)(17.4,-24.8)(17.9,-25.5)(18.1,-22.4)(18.5,-23.5)(18.9,-24.8)(19.5,-26.2)(19.8,-25.5)(20.3,-27)(20.8,-27.5)(21.5,-28.9)(22,-28)(22.5,-29.5)(23,-31)(23.2,-31)(23.35,-28)(23.65,-28.5)};
\addplot[cY] coordinates {(0,0)(0.5,-0.7)(1,-1.4)(1.5,-2)(2,-2.6)(2.5,-3.2)(3,-3.8)(3.5,-4.4)(4,-5)(4.5,-5.5)(5,-6)(5.5,-3.5)(6,-4)(6.5,-4.6)(7,-5.1)(7.5,-5.7)(8,-6.2)(8.5,-6.8)(9,-7.3)(9.5,-7.9)(10,-8.4)(10.5,-9)(11,-9.5)(11.5,-10)(12,-10.6)(12.5,-11.1)(13,-11.6)(13.5,-12.2)(14,-12.8)(14.5,-13.4)(15,-14)(15.5,-14.7)(16,-15.4)(16.5,-16.2)(17,-17.8)(17.5,-19.6)(18,-20.3)(18.5,-21.2)(19,-22.2)(19.6,-23.8)(20.2,-25.5)(20.8,-26.8)(21.2,-27.5)(21.65,-28.5)(22.2,-29.8)(22.6,-31)(23.05,-32.9)(23.3,-32)(23.65,-33)};
\addplot[cY] coordinates {(0,0)(0.5,-0.5)(1,0.8)(1.5,0.3)(2,-0.2)(2.5,-0.7)(3,-1.2)(3.5,-1.7)(4,-2.2)(4.5,-2.7)(5,-3.2)(5.5,-3.7)(6,-4.2)(6.5,-1.5)(7,-2)(7.5,-2.5)(8,-3)(8.5,-3.5)(9,-4)(9.5,-4.5)(10,-5)(10.5,-5.5)(11,-6)(11.5,-6.5)(12,-7)(12.5,-7.5)(13,-8)(13.5,-8.5)(14,-9)(14.5,-9.5)(15,-10)(15.5,-10.5)(16,-11)(16.5,-13)(17,-14.8)(17.5,-15.5)(18,-16.5)(18.5,-17.6)(19,-18.5)(19.5,-19.5)(20,-21)(20.5,-23)(20.9,-23.3)(21.3,-24.2)(21.7,-24.8)(22,-25)(22.4,-25.9)(23,-26.8)(23.65,-27.8)};
\addplot[cM] coordinates {(0,0)(0.5,-0.8)(1,-1.6)(1.5,-2.3)(2,-3)(2.5,-3.7)(3,-4.4)(3.5,-5)(4,-5.6)(4.5,-6.2)(5,-6.8)(5.5,-7.4)(6,-8)(6.5,-8.6)(7,-9.2)(7.5,-9.8)(8,-10.3)(8.5,-10.9)(9,-11.4)(9.5,-12)(10,-12.5)(10.5,-13)(11,-13.5)(11.5,-14)(12,-14.5)(12.5,-15)(13,-12)(13.5,-12.5)(14,-13)(14.5,-13.5)(15,-14)(15.5,-14.5)(16,-15)(16.5,-15.5)(17,-16)(17.5,-16.6)(18,-17.2)(18.5,-17.8)(19,-18.4)(19.5,-19)(20,-19.5)(20.5,-20)(21,-20.5)(21.5,-21)(22,-21.4)(22.5,-21.8)(23,-22.2)(23.65,-22.6)};
\addplot[cG] coordinates {(0,0)(0.5,-0.6)(1,-1.2)(1.5,-1.8)(2,-2.4)(2.5,0.5)(3,0)(3.5,-0.6)(4,-1.2)(4.5,-1.8)(5,-2.4)(5.5,-3)(6,-3.6)(6.5,-4.2)(7,-4.8)(7.5,-5.4)(8,-6)(8.5,-6.6)(9,-7.2)(9.5,-7.8)(10,-8.3)(10.5,-8.8)(11,-9.3)(11.5,-9.8)(12,-10.3)(12.5,-10.8)(13,-11.3)(13.5,-11.8)(14,-12.3)(14.5,-12.8)(15,-10)(15.5,-10.5)(16,-11)(16.5,-11.5)(17,-12)(17.5,-12.5)(18,-13)(18.5,-13.4)(19,-14)(19.5,-14.4)(20,-14.8)(20.5,-15.2)(21,-16.8)(21.5,-16.7)(22,-17.3)(22.5,-18.9)(22.8,-19)(23,-14.5)(23.65,-16.7)};
\addplot[cS] coordinates {(0,0)(0.5,-0.7)(1,-1.4)(1.5,-2.1)(2,-2.8)(2.5,-3.5)(3,-4.2)(3.5,-4.8)(4,-5.4)(4.5,-6)(5,-6.6)(5.5,-7.2)(6,-7.8)(6.5,-8.4)(7,-9)(7.5,-6)(8,-6.6)(8.5,-7.2)(9,-7.8)(9.5,-8.4)(10,-9)(10.5,-9.6)(11,-10.2)(11.5,-10.8)(12,-11.4)(12.5,-12)(13,-12.6)(13.5,-13.2)(14,-13.8)(14.5,-14.4)(15,-15)(15.5,-12)(16,-12.6)(16.5,-13.2)(17,-13.8)(17.5,-14.4)(18,-15)(18.5,-15.6)(19,-16.2)(19.5,-16.8)(20,-17.4)(20.5,-18)(21,-18.5)(21.5,-19)(22,-19.5)(22.5,-20)(23,-20.3)(23.65,-20.6)};
\addplot[cB] coordinates {(0,0)(0.5,-0.9)(1,-1.8)(1.5,-2.7)(2,-3.5)(2.5,-4.3)(3,-5.1)(3.5,-5.9)(4,-6.6)(4.5,-7.3)(5,-8)(5.5,-8.7)(6,-9.3)(6.5,-5)(7,-5.6)(7.5,-6.2)(8,-6.8)(8.5,-7.4)(9,-8)(9.5,-8.6)(10,-9.2)(10.5,-9.8)(11,-10.4)(11.5,-11)(12,-11.5)(12.5,-12)(13,-12.5)(13.5,-13)(14,-13.5)(14.5,-14)(15,-14.5)(15.5,-9)(16,-9.5)(16.5,-10)(17,-10.5)(17.5,-11)(18,-11.5)(18.5,-12)(19,-12.5)(19.5,-13)(20,-13.5)(20.5,-12)(21,-12.5)(21.5,-13)(22,-13.5)(22.5,-14)(23,-14.4)(23.65,-14.8)};
\addplot[cR] coordinates {(0,0)(0.5,-0.9)(1,-1.8)(1.5,-2.6)(2,-3.4)(2.5,-4.2)(3,-5)(3.5,-5.8)(4,-6.5)(4.5,-7.2)(5,-7.9)(5.5,-8.6)(6,-9.2)(6.5,-9.8)(7,-10.4)(7.5,-11)(8,-11.5)(8.5,-12)(9,-12.5)(9.5,-13)(10,-13.5)(10.5,-14)(11,-14.5)(11.5,-15)(12,-15.5)(12.5,-16)(13,-16.5)(13.5,-17)(14,-14)(14.5,-14.5)(15,-15)(15.5,-15.5)(16,-16)(16.5,-16.5)(17,-17)(17.5,-17.5)(18,-18)(18.5,-18.6)(18.8,-18.9)(19,-13.5)(19.5,-14)(20,-14.5)(20.5,-15)(21,-15.5)(21.5,-16)(22,-16.4)(22.5,-16.8)(23,-17.2)(23.65,-17.6)};
% flat series
\addplot[cS] coordinates {(0,0)(23.65,0)};
\end{axis}
\node[anchor=base] at (285.4bp,427bp) {Cumulative Z-Squared Value};
\node[anchor=base] at (285.4bp,-31bp) {Hour of Day};
\node[anchor=base,rotate=90] at (-38bp,206bp) {Cumulative (Z*Z)-1};
\end{tikzpicture}
\end{document}
